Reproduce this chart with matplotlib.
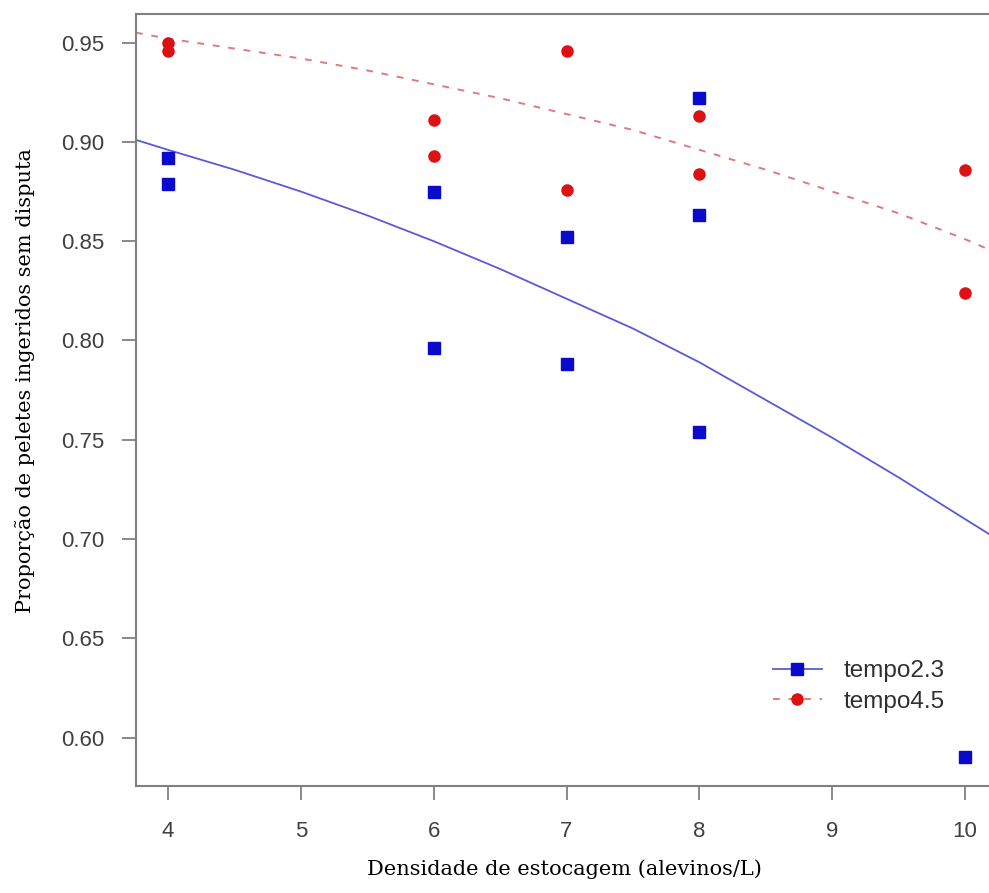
import matplotlib
matplotlib.use("Agg")
import matplotlib.pyplot as plt

# observed proportions
dens_t23 = [4, 4, 6, 6, 7, 7, 8, 8, 8, 10]
prop_t23 = [0.892, 0.879, 0.875, 0.796, 0.852, 0.788, 0.922, 0.863, 0.754, 0.590]
dens_t45 = [4, 4, 6, 6, 7, 7, 8, 8, 10, 10]
prop_t45 = [0.950, 0.946, 0.911, 0.893, 0.946, 0.876, 0.913, 0.884, 0.886, 0.824]

# fitted curves
fit_x = [3.76, 4, 4.5, 5, 5.5, 6, 6.5, 7, 7.5, 8, 8.5, 9, 9.5, 10, 10.24]
fit_t23 = [0.901, 0.896, 0.886, 0.875, 0.863, 0.850, 0.836, 0.821, 0.806,
           0.789, 0.770, 0.751, 0.731, 0.710, 0.700]
fit_t45 = [0.955, 0.952, 0.947, 0.942, 0.936, 0.929, 0.922, 0.914, 0.906,
           0.896, 0.886, 0.875, 0.864, 0.851, 0.844]

xticks = [4, 5, 6, 7, 8, 9, 10]
yticks = [0.60, 0.65, 0.70, 0.75, 0.80, 0.85, 0.90, 0.95]

W, H = 989, 893
fig = plt.figure(figsize=(W / 100, H / 100), dpi=100)
ax = fig.add_axes([136 / W, 107 / H, (997 - 136) / W, (786 - 14) / H])

blue = "#0a0acc"
red = "#dd1111"

ax.plot(fit_x, fit_t23, color="#5a5ad8", lw=1.3, zorder=2)
ax.plot(fit_x, fit_t45, color="#e07a7a", lw=1.4, dashes=(3.5, 4.5), zorder=2)
ax.plot(dens_t23, prop_t23, "s", color=blue, ms=8, mec=blue, zorder=3)
ax.plot(dens_t45, prop_t45, "o", color=red, ms=8, mec=red, zorder=3)

# legend handles
h1, = ax.plot([], [], color="#5a5ad8", lw=1.3, marker="s", ms=8, mfc=blue, mec=blue)
h2, = ax.plot([], [], color="#e07a7a", lw=1.4, dashes=(3.5, 4.5), marker="o", ms=8, mfc=red, mec=red)
leg = ax.legend([h1, h2], ["tempo2.3", "tempo4.5"], loc="upper left",
                bbox_to_anchor=(773 / W, (H - 660) / H), bbox_transform=fig.transFigure,
                frameon=False, borderpad=0, handlelength=2.0,
                handletextpad=0.9, labelspacing=0.35, borderaxespad=0,
                prop={"family": "Liberation Sans", "size": 17.5})
for t in leg.get_texts():
    t.set_color("#303030")

ax.set_xlim(3.76, 10.24)
ax.set_ylim(0.5756, 0.9644)
ax.set_xticks(xticks)
ax.set_yticks(yticks)
ax.set_xticklabels([str(v) for v in xticks])
ax.set_yticklabels([f"{v:.2f}" for v in yticks])

for s in ax.spines.values():
    s.set_color("#808080")
    s.set_linewidth(1.5)

ax.tick_params(direction="out", length=10, width=1.3, color="#808080",
               labelcolor="#404040", labelsize=16)
ax.tick_params(axis="x", pad=15)
ax.tick_params(axis="y", pad=13)
for lab in ax.get_xticklabels() + ax.get_yticklabels():
    lab.set_family("Liberation Sans")

ax.set_xlabel("Densidade de estocagem (alevinos/L)", family="DejaVu Serif",
              fontsize=15)
ax.set_ylabel("Proporção de peletes ingeridos sem disputa", family="DejaVu Serif",
              fontsize=15)
ax.xaxis.set_label_coords(564 / W, (H - 869) / H, transform=fig.transFigure)
ax.yaxis.set_label_coords(25 / W, (H - 381) / H, transform=fig.transFigure)
ax.xaxis.label.set_va("center")
ax.yaxis.label.set_va("center")

fig.savefig("out.png", dpi=100)
